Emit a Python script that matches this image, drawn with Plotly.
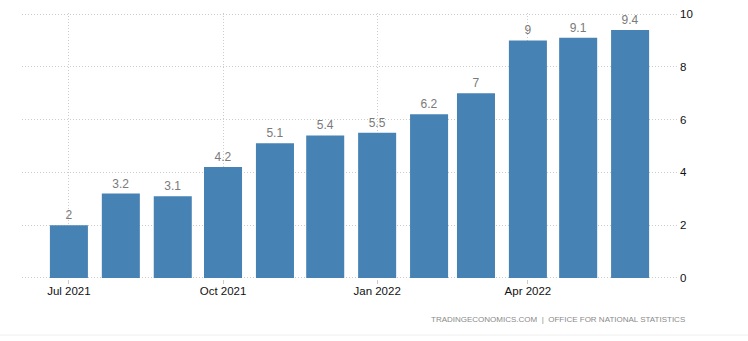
import plotly.graph_objects as go

months = ["2021-07-01", "2021-08-01", "2021-09-01", "2021-10-01", "2021-11-01", "2021-12-01",
          "2022-01-01", "2022-02-01", "2022-03-01", "2022-04-01", "2022-05-01", "2022-06-01"]
values = [2, 3.2, 3.1, 4.2, 5.1, 5.4, 5.5, 6.2, 7, 9, 9.1, 9.4]
value_labels = ["2", "3.2", "3.1", "4.2", "5.1", "5.4", "5.5", "6.2", "7", "9", "9.1", "9.4"]
y_ticks = [0, 2, 4, 6, 8, 10]
source_text = "TRADINGECONOMICS.COM  |  OFFICE FOR NATIONAL STATISTICS"

FONT = "Liberation Sans, Arial, sans-serif"
DAY_MS = 86400000
W, H = 748, 341
L, R, T, B = 22, 71, 13, 62  # plot area ~ x 22..677, y 13..279
PH = H - T - B
GRID_DASH = "1px,2px"

fig = go.Figure()
fig.add_trace(go.Bar(
    x=months, y=values,
    width=[22.7 * DAY_MS] * len(values),
    marker=dict(color="#4682B4", line=dict(width=0)),
    text=value_labels, textposition="outside",
    textfont=dict(family=FONT, size=12, color="#7a7a7a"),
    cliponaxis=False,
))

fig.update_layout(
    width=W, height=H,
    margin=dict(l=L, r=R, t=T, b=B, autoexpand=False),
    paper_bgcolor="white", plot_bgcolor="white",
    showlegend=False,
    xaxis=dict(
        type="date", automargin=False,
        range=["2021-06-03", "2022-06-29"],
        tick0="2021-07-01", dtick="M3", tickformat="%b %Y",
        showgrid=True, gridcolor="#cccccc", griddash=GRID_DASH, gridwidth=1,
        ticks="outside", ticklen=4, tickcolor="#cccccc",
        ticklabelstandoff=-3,
        tickfont=dict(family=FONT, size=11.5, color="#111111"),
        showline=False, zeroline=False, fixedrange=True,
    ),
    yaxis=dict(
        range=[-0.04, 10.04], side="right", automargin=False,
        tickvals=y_ticks,
        showgrid=True, gridcolor="#cccccc", griddash=GRID_DASH, gridwidth=1,
        ticks="", ticklabelstandoff=2,
        tickfont=dict(family=FONT, size=11.5, color="#111111"),
        showline=False, zeroline=False, fixedrange=True,
    ),
    annotations=[dict(
        text=source_text, xref="paper", yref="paper",
        x=(687 - L) / (W - L - R), y=(H - B - 319) / PH,
        xanchor="right", yanchor="middle", showarrow=False,
        font=dict(family=FONT, size=8, color="#8a8a8a"),
    )],
    shapes=[dict(
        type="line", xref="paper", yref="paper",
        x0=-L / (W - L - R), x1=(W - L) / (W - L - R),
        y0=(H - B - 335) / PH, y1=(H - B - 335) / PH,
        line=dict(color="#eeeeee", width=1),
    )],
)

fig.write_html("out.html")
